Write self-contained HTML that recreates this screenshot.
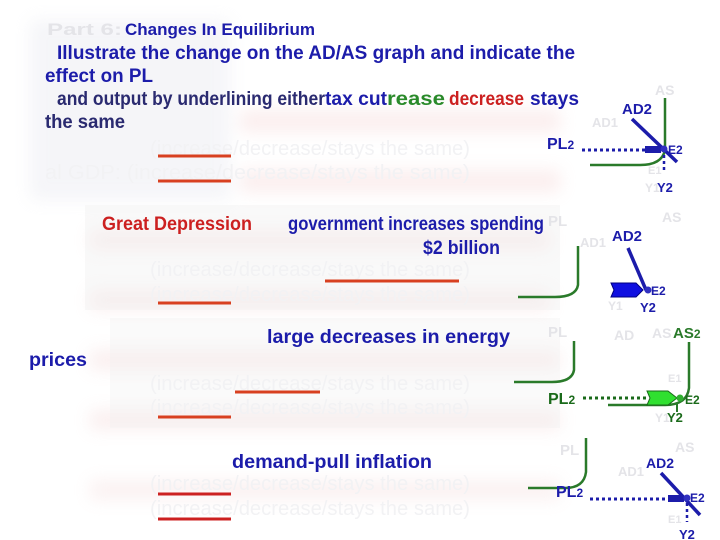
<!DOCTYPE html>
<html><head><meta charset="utf-8"><style>
html,body{margin:0;padding:0;background:#fff;}
svg{display:block;font-family:"Liberation Sans",sans-serif;}
</style></head><body>
<svg width="720" height="540" viewBox="0 0 720 540">
<defs>
<filter id="blur"><feGaussianBlur stdDeviation="8"/></filter>
</defs>
<g filter="url(#blur)" opacity="0.3">
<rect x="30" y="20" width="200" height="180" fill="#dfe0ea"/>
<rect x="240" y="110" width="320" height="22" fill="#f2c8c8"/>
<rect x="240" y="170" width="320" height="22" fill="#f2c8c8"/>
<rect x="90" y="230" width="460" height="20" fill="#f0cccc"/>
<rect x="90" y="290" width="460" height="20" fill="#f0cccc"/>
<rect x="90" y="350" width="470" height="20" fill="#f0cccc"/>
<rect x="90" y="410" width="470" height="20" fill="#f0cccc"/>
<rect x="90" y="480" width="470" height="20" fill="#f2d4d4"/>
</g>
<rect x="85" y="205" width="475" height="105" fill="#eeeeee" opacity="0.35"/>
<rect x="110" y="318" width="450" height="110" fill="#eeeeee" opacity="0.3"/>

<g font-weight="bold" fill="#1c1caa" lengthAdjust="spacingAndGlyphs">
<text x="47" y="35" font-size="17" fill="#e4e4e8" textLength="75" lengthAdjust="spacingAndGlyphs">Part 6:</text>
<text x="125" y="35" font-size="17" textLength="190" lengthAdjust="spacingAndGlyphs">Changes In Equilibrium</text>
<text x="57" y="59" font-size="19" textLength="518" lengthAdjust="spacingAndGlyphs">Illustrate the change on the AD/AS graph and indicate the</text>
<text x="45" y="82" font-size="19" textLength="108" lengthAdjust="spacingAndGlyphs">effect on PL</text>
<text x="57" y="105" font-size="19" fill="#2a2a70" textLength="268" lengthAdjust="spacingAndGlyphs">and output by underlining either</text>
<text x="325" y="105" font-size="19" textLength="62" lengthAdjust="spacingAndGlyphs">tax cut</text>
<text x="387" y="105" font-size="19" fill="#2a8a2a" textLength="58" lengthAdjust="spacingAndGlyphs">rease</text>
<text x="449" y="105" font-size="19" fill="#cc2020" textLength="75" lengthAdjust="spacingAndGlyphs">decrease</text>
<text x="530" y="105" font-size="19" textLength="49" lengthAdjust="spacingAndGlyphs">stays</text>
<text x="45" y="128" font-size="19" fill="#2a2a70" textLength="80" lengthAdjust="spacingAndGlyphs">the same</text>
</g>

<g font-size="20" fill="#f2f2f4">
<text x="150" y="155" textLength="320" lengthAdjust="spacingAndGlyphs">(increase/decrease/stays the same)</text>
<text x="45" y="179" textLength="425" lengthAdjust="spacingAndGlyphs">al GDP:  (increase/decrease/stays the same)</text>
<text x="150" y="276" textLength="320" lengthAdjust="spacingAndGlyphs">(increase/decrease/stays the same)</text>
<text x="150" y="301" textLength="320" lengthAdjust="spacingAndGlyphs">(increase/decrease/stays the same)</text>
<text x="150" y="390" textLength="320" lengthAdjust="spacingAndGlyphs">(increase/decrease/stays the same)</text>
<text x="150" y="414" textLength="320" lengthAdjust="spacingAndGlyphs">(increase/decrease/stays the same)</text>
<text x="150" y="490" textLength="320" lengthAdjust="spacingAndGlyphs">(increase/decrease/stays the same)</text>
<text x="150" y="515" textLength="320" lengthAdjust="spacingAndGlyphs">(increase/decrease/stays the same)</text>
</g>

<g font-weight="bold" font-size="19">
<text x="102" y="230" fill="#cc2020" textLength="150" lengthAdjust="spacingAndGlyphs">Great Depression</text>
<text x="288" y="230" fill="#1c1caa" textLength="256" lengthAdjust="spacingAndGlyphs">government increases spending</text>
<text x="423" y="254" fill="#1c1caa" textLength="77" lengthAdjust="spacingAndGlyphs">$2 billion</text>
<text x="267" y="343" fill="#1c1caa" textLength="243" lengthAdjust="spacingAndGlyphs">large decreases in energy</text>
<text x="29" y="366" fill="#1c1caa" textLength="58" lengthAdjust="spacingAndGlyphs">prices</text>
<text x="232" y="468" fill="#1c1caa" textLength="200" lengthAdjust="spacingAndGlyphs">demand-pull inflation</text>
</g>

<g stroke="#d84020" stroke-width="3">
<line x1="158" y1="156" x2="231" y2="156"/>
<line x1="158" y1="181" x2="231" y2="181"/>
<line x1="325" y1="281" x2="459" y2="281"/>
<line x1="158" y1="303" x2="231" y2="303"/>
<line x1="235" y1="392" x2="320" y2="392"/>
<line x1="158" y1="417" x2="231" y2="417"/>
<line x1="158" y1="494" x2="231" y2="494" stroke="#cc2020"/>
<line x1="158" y1="519" x2="231" y2="519" stroke="#cc2020"/>
</g>

<!-- Graph 1 -->
<g font-weight="bold">
<text x="655" y="95" font-size="14" fill="#e4e4e8">AS</text>
<text x="592" y="127" font-size="13" fill="#e4e4e8">AD1</text>
<path d="M665 98 V150 Q662 165 640 165 H590" stroke="#2a7a2a" stroke-width="2.5" fill="none"/>
<line x1="632" y1="119" x2="677" y2="162" stroke="#1c1caa" stroke-width="3.5"/>
<text x="622" y="114" font-size="15" fill="#1c1caa">AD2</text>
<text x="547" y="149" font-size="16" fill="#1c1caa">PL<tspan font-size="12">2</tspan></text>
<line x1="582" y1="150" x2="645" y2="150" stroke="#1c1caa" stroke-width="3" stroke-dasharray="3,3"/>
<rect x="645" y="146" width="16" height="7" fill="#1c1caa"/>
<circle cx="664" cy="149" r="3.5" fill="#3030c0"/>
<text x="668" y="154" font-size="12" fill="#1c1caa">E2</text>
<line x1="664" y1="155" x2="664" y2="173" stroke="#1c1caa" stroke-width="2.5" stroke-dasharray="3,3"/>
<text x="648" y="174" font-size="11" fill="#e4e4e8">E1</text>
<text x="645" y="192" font-size="12" fill="#e4e4e8">Y1</text>
<text x="657" y="192" font-size="13" fill="#1c1caa">Y2</text>
</g>

<!-- Graph 2 -->
<g font-weight="bold">
<text x="548" y="226" font-size="15" fill="#e4e4e8">PL</text>
<text x="662" y="222" font-size="14" fill="#e4e4e8">AS</text>
<text x="580" y="247" font-size="13" fill="#e4e4e8">AD1</text>
<text x="612" y="241" font-size="15" fill="#1c1caa">AD2</text>
<path d="M578 246 V285 Q576 297 555 297 H518" stroke="#2a7a2a" stroke-width="2.5" fill="none"/>
<line x1="628" y1="248" x2="646" y2="290" stroke="#1c1caa" stroke-width="3.5"/>
<path d="M611 283 H636 L643 290 L636 297 H611 L614 290 Z" fill="#1010e0" stroke="#000080" stroke-width="1"/>
<circle cx="648" cy="290" r="3.5" fill="#3030c0"/>
<text x="651" y="295" font-size="12" fill="#1c1caa">E2</text>
<text x="608" y="310" font-size="12" fill="#e4e4e8">Y1</text>
<text x="640" y="312" font-size="13" fill="#1c1caa">Y2</text>
</g>

<!-- Graph 3 -->
<g font-weight="bold">
<text x="548" y="337" font-size="15" fill="#e4e4e8">PL</text>
<text x="614" y="340" font-size="14" fill="#e4e4e8">AD</text>
<text x="652" y="338" font-size="14" fill="#e4e4e8">AS</text>
<text x="673" y="338" font-size="15" fill="#2a7a2a">AS<tspan font-size="12">2</tspan></text>
<path d="M574 341 V370 Q572 382 552 382 H514" stroke="#2a7a2a" stroke-width="2.5" fill="none"/>
<path d="M689 342 V388 Q687 405 665 405 H608" stroke="#2a7a2a" stroke-width="2.5" fill="none"/>
<text x="668" y="382" font-size="11" fill="#e4e4e8">E1</text>
<text x="548" y="404" font-size="16" fill="#1a6a1a">PL<tspan font-size="12">2</tspan></text>
<line x1="583" y1="398" x2="648" y2="398" stroke="#1a6a1a" stroke-width="3" stroke-dasharray="3,3"/>
<path d="M647 391 H668 L677 398 L668 405 H647 L650 398 Z" fill="#30e030" stroke="#1a6a1a" stroke-width="1"/>
<circle cx="680" cy="398" r="3.5" fill="#30b030"/>
<text x="685" y="404" font-size="12" fill="#1a6a1a">E2</text>
<line x1="677" y1="403" x2="677" y2="412" stroke="#2a7a2a" stroke-width="2"/>
<text x="655" y="422" font-size="12" fill="#e4e4e8">Y1</text>
<text x="667" y="422" font-size="13" fill="#1a6a1a">Y2</text>
</g>

<!-- Graph 4 -->
<g font-weight="bold">
<text x="560" y="455" font-size="15" fill="#e4e4e8">PL</text>
<text x="675" y="452" font-size="14" fill="#e4e4e8">AS</text>
<text x="618" y="476" font-size="13" fill="#e4e4e8">AD1</text>
<text x="646" y="468" font-size="14" fill="#1c1caa">AD2</text>
<path d="M586 438 V472 Q584 488 565 488 H528" stroke="#2a7a2a" stroke-width="2.5" fill="none"/>
<line x1="661" y1="473" x2="700" y2="515" stroke="#1c1caa" stroke-width="3.5"/>
<text x="556" y="497" font-size="16" fill="#1c1caa">PL<tspan font-size="12">2</tspan></text>
<line x1="590" y1="499" x2="668" y2="499" stroke="#1c1caa" stroke-width="3" stroke-dasharray="3,3"/>
<rect x="668" y="495" width="16" height="7" fill="#1c1caa"/>
<circle cx="687" cy="498" r="3.5" fill="#3030c0"/>
<text x="690" y="502" font-size="12" fill="#1c1caa">E2</text>
<line x1="687" y1="503" x2="687" y2="522" stroke="#1c1caa" stroke-width="2.5" stroke-dasharray="3,3"/>
<text x="668" y="523" font-size="11" fill="#e4e4e8">E1</text>
<text x="679" y="539" font-size="13" fill="#1c1caa">Y2</text>
</g>
</svg>
</body></html>
